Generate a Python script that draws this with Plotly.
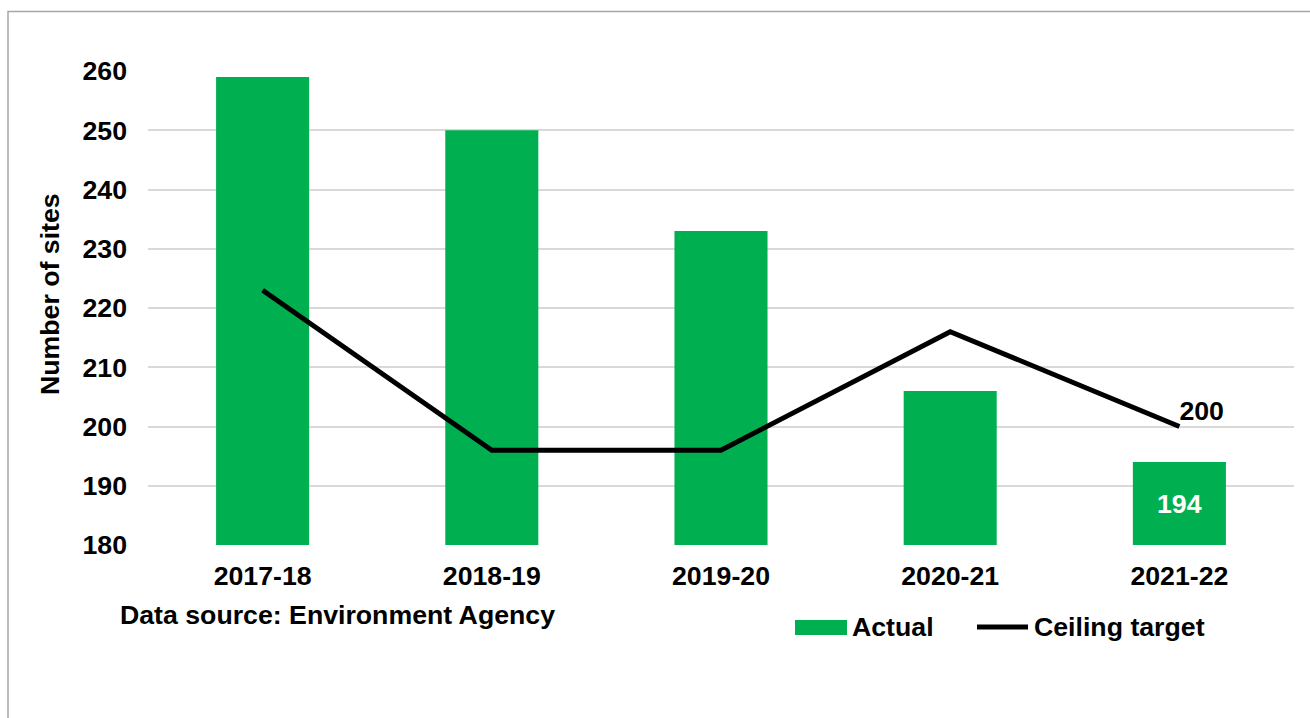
import plotly.graph_objects as go

# Contaminated-site counts against the ceiling target, by financial year
years = ["2017-18", "2018-19", "2019-20", "2020-21", "2021-22"]
actual = [259, 250, 233, 206, 194]
ceiling_target = [223, 196, 196, 216, 200]
y_ticks = [180, 190, 200, 210, 220, 230, 240, 250, 260]
y_min, y_max = 180, 260

GREEN = "#00B050"
FONT = "Liberation Sans, Arial, sans-serif"
FS = 26.7

W, H = 1310, 718
L, R, T, B = 148, 16, 71, 173
pw, ph = W - L - R, H - T - B


def px(x):
    return (x - L) / pw


def py(y):
    return (H - B - y) / ph


# label the latest ceiling value on the line
line_text = [""] * (len(ceiling_target) - 1) + [str(ceiling_target[-1])]

fig = go.Figure()
fig.add_trace(go.Bar(
    x=years, y=actual, name="Actual",
    marker=dict(color=GREEN, line=dict(width=0)),
    showlegend=False,
))
fig.add_trace(go.Scatter(
    x=years, y=ceiling_target, name="Ceiling target",
    mode="lines+text",
    line=dict(color="black", width=5),
    text=line_text, textposition="top right",
    textfont=dict(color="black", size=FS, family=FONT, weight="bold"),
    showlegend=False, cliponaxis=False,
))

shapes = [
    # outer chart border
    dict(type="rect", xref="paper", yref="paper",
         x0=px(8), x1=px(1330), y0=py(740), y1=py(11.5),
         line=dict(color="#a6a6a6", width=1.5), fillcolor="rgba(0,0,0,0)", layer="below"),
    # legend swatches
    dict(type="rect", xref="paper", yref="paper",
         x0=px(795), x1=px(847), y0=py(635), y1=py(620),
         line=dict(width=0), fillcolor=GREEN),
    dict(type="line", xref="paper", yref="paper",
         x0=px(977), x1=px(1028), y0=py(627), y1=py(627),
         line=dict(color="black", width=5)),
]

bold = dict(family=FONT, size=FS, color="black", weight="bold")
annotations = [
    # value label centred in the visible part of the latest bar
    dict(text=str(actual[-1]), x=years[-1], y=(y_min + actual[-1]) / 2,
         xref="x", yref="y", xanchor="center", yanchor="middle",
         showarrow=False, font=dict(family=FONT, size=FS, color="white", weight="bold")),
    dict(text="Number of sites", textangle=-90, xref="paper", yref="paper",
         x=px(50), y=py(294), xanchor="center", yanchor="middle",
         showarrow=False, font=bold),
    dict(text="Data source: Environment Agency", xref="paper", yref="paper",
         x=px(118), y=py(615), xanchor="left", yanchor="middle",
         showarrow=False, font=bold),
    dict(text="Actual", xref="paper", yref="paper",
         x=px(850), y=py(627), xanchor="left", yanchor="middle",
         showarrow=False, font=bold),
    dict(text="Ceiling target", xref="paper", yref="paper",
         x=px(1032), y=py(627), xanchor="left", yanchor="middle",
         showarrow=False, font=bold),
]

fig.update_layout(
    width=W, height=H,
    margin=dict(l=L, r=R, t=T, b=B, pad=0),
    paper_bgcolor="white", plot_bgcolor="white",
    bargap=0.594,
    font=bold,
    shapes=shapes,
    annotations=annotations,
    xaxis=dict(
        showgrid=False, showline=False, zeroline=False, ticks="",
        tickfont=bold, ticklabelstandoff=12,
    ),
    yaxis=dict(
        range=[y_min, y_max], tickvals=y_ticks,
        showgrid=True, gridcolor="#d9d9d9", gridwidth=2,
        showline=False, zeroline=False, ticks="",
        tickfont=bold, ticklabelstandoff=20,
    ),
)

fig.write_html("out.html")
